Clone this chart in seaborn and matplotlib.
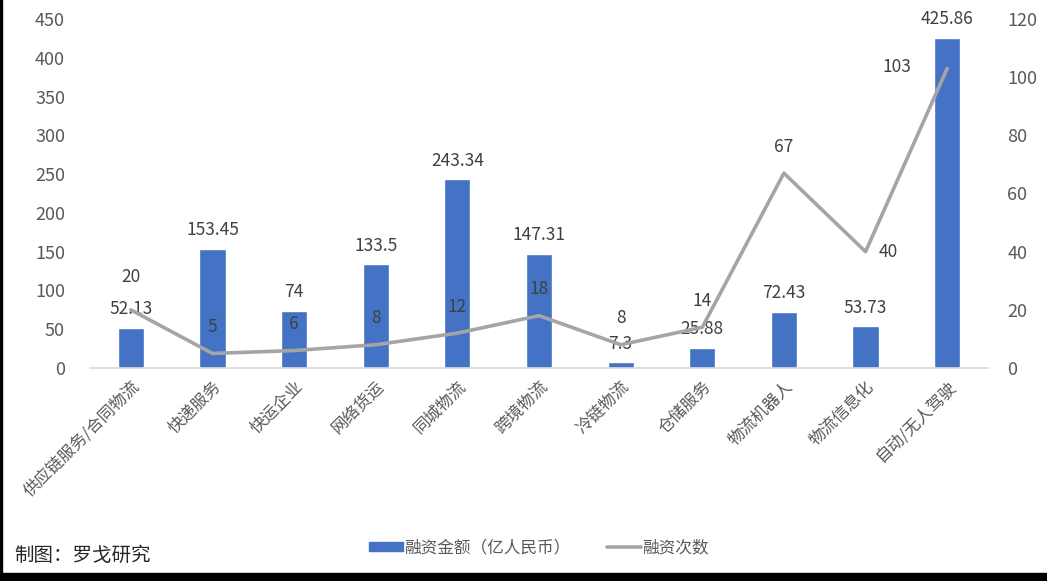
import numpy as np
import pandas as pd
import matplotlib
matplotlib.use("Agg")
import matplotlib.pyplot as plt
import seaborn as sns
from matplotlib.patches import Rectangle
from matplotlib.lines import Line2D
from matplotlib.patches import Patch

categories = ["供应链服务/合同物流", "快递服务", "快运企业", "网络货运", "同城物流", "跨境物流",
              "冷链物流", "仓储服务", "物流机器人", "物流信息化", "自动/无人驾驶"]
amount = [52.13, 153.45, 74, 133.5, 243.34, 147.31, 7.3, 25.88, 72.43, 53.73, 425.86]
amount_labels = ["52.13", "153.45", "74", "133.5", "243.34", "147.31", "7.3", "25.88", "72.43", "53.73", "425.86"]
counts = [20, 5, 6, 8, 12, 18, 8, 14, 67, 40, 103]
left_ticks = [0, 50, 100, 150, 200, 250, 300, 350, 400, 450]
right_ticks = [0, 20, 40, 60, 80, 100, 120]
legend_bar = "融资金额（亿人民币）"
legend_line = "融资次数"
credit = "制图：罗戈研究"

BAR = "#4472C4"
LINE = "#A5A5A5"
TXT = "#595959"

sns.set_theme(style="white")
plt.rcParams['font.family'] = ['Noto Sans CJK SC', 'DejaVu Sans']

fig = plt.figure(figsize=(10.47, 5.81), dpi=100)
ax = fig.add_axes([90/1047, 1-368/581, (988-90)/1047, (368-19)/581])

df = pd.DataFrame({"cat": categories, "amount": amount})
sns.barplot(data=df, x="cat", y="amount", color=BAR, width=0.32, saturation=1, ax=ax)
ax.set_xlim(-0.5, len(categories)-0.5)
ax.set_ylim(0, 450)
ax.set_yticks(left_ticks)
ax.set_xlabel("")
ax.set_ylabel("")
ax.tick_params(axis="y", labelsize=13, colors=TXT, length=0, pad=18)
ax.set_xticks(np.arange(len(categories)))
ax.set_xticklabels(categories, rotation=45, ha="right", va="top", rotation_mode="anchor",
                   fontsize=12, color=TXT)
ax.tick_params(axis="x", length=0, pad=7)
for s in ["top", "right", "left"]:
    ax.spines[s].set_visible(False)
ax.spines["bottom"].set_color("#D9D9D9")
ax.spines["bottom"].set_linewidth(1.2)

ax.bar_label(ax.containers[0], labels=amount_labels, padding=7, fontsize=12.5, color="#404040")

ax2 = ax.twinx()
xs = np.arange(len(categories))
sns.lineplot(x=xs, y=counts, color=LINE, linewidth=2.6, ax=ax2)
ax2.set_ylim(0, 120)
ax2.set_yticks(right_ticks)
ax2.set_ylabel("")
ax2.tick_params(axis="y", labelsize=13, colors=TXT, length=0, pad=14)
for s in ["top", "right", "left", "bottom"]:
    ax2.spines[s].set_visible(False)

offsets = {0: (0, 24), 9: (16, 0), 10: (-36, 1)}
for i, c in enumerate(counts):
    dx, dy = offsets.get(i, (0, 19))
    ax2.annotate(str(c), (xs[i], c), xytext=(dx, dy), textcoords="offset points",
                 ha="center", va="center", fontsize=12.5, color="#404040")

handles = [Patch(facecolor=BAR, edgecolor=BAR), Line2D([], [], color=LINE, linewidth=2.6)]
fig.legend(handles, [legend_bar, legend_line], loc="center", bbox_to_anchor=(539/1047, 1-548/581),
           ncol=2, frameon=False, fontsize=12, labelcolor=TXT, handlelength=2.0, handleheight=0.5,
           handletextpad=0.1, columnspacing=2.2)

fig.text(14/1047, 1-555/581, credit, ha="left", va="center", fontsize=14, color="#262626")

fig.patches.append(Rectangle((0, 0), 1, 8/581, transform=fig.transFigure, color="black", zorder=10))
fig.patches.append(Rectangle((0, 0), 2/1047, 1, transform=fig.transFigure, color="black", zorder=10))

fig.savefig("out.png", dpi=100)
